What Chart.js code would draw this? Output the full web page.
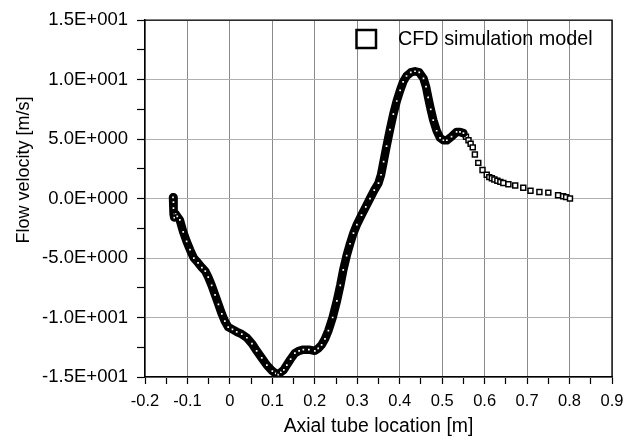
<!DOCTYPE html>
<html>
<head>
<meta charset="utf-8">
<script src="https://cdn.jsdelivr.net/npm/chart.js@4.4.1/dist/chart.umd.min.js"></script>
<style>
  html, body { margin: 0; padding: 0; background: #fff; }
  #wrap { width: 642px; height: 439px; position: relative; }
</style>
</head>
<body>
<div id="wrap"><canvas id="c" width="642" height="439"></canvas></div>
<script>
// Axial tube location [m] of the densely sampled part of the curve
const denseX = [-0.134,-0.133,-0.133,-0.132,-0.131,-0.128,-0.124,-0.118,-0.110,-0.102,-0.094,-0.085,-0.075,-0.066,-0.058,-0.051,-0.043,-0.035,-0.027,-0.019,-0.012,-0.004,0.006,0.016,0.028,0.040,0.052,0.063,0.075,0.087,0.100,0.108,0.114,0.120,0.127,0.134,0.143,0.153,0.163,0.173,0.186,0.200,0.208,0.216,0.224,0.232,0.242,0.252,0.260,0.267,0.275,0.283,0.291,0.299,0.310,0.320,0.330,0.340,0.350,0.356,0.362,0.369,0.377,0.385,0.393,0.401,0.408,0.416,0.426,0.436,0.446,0.456,0.462,0.467,0.473,0.479,0.487,0.495,0.503,0.511,0.522,0.534,0.542,0.550];
// Flow velocity [m/s] of the densely sampled part
const denseY = [0.1,-0.3,-0.8,-1.3,-1.6,-1.3,-1.5,-1.8,-2.8,-3.6,-4.3,-5.0,-5.4,-5.8,-6.1,-6.6,-7.3,-8.1,-8.9,-9.7,-10.3,-10.8,-11.0,-11.2,-11.4,-11.7,-12.2,-12.8,-13.4,-14.0,-14.5,-14.7,-14.8,-14.6,-14.4,-14.0,-13.5,-13.0,-12.8,-12.7,-12.7,-12.8,-12.6,-12.3,-11.8,-11.1,-10.0,-8.6,-7.3,-6.0,-4.8,-3.8,-2.9,-2.2,-1.4,-0.7,0.0,0.7,1.3,2.0,3.1,4.4,5.8,7.1,8.2,9.1,9.8,10.3,10.6,10.7,10.6,10.1,9.4,8.5,7.5,6.6,5.7,5.1,4.9,4.9,5.2,5.6,5.6,5.5];
// Sparse tail markers
const tailX = [0.556,0.562,0.567,0.572,0.577,0.585,0.595,0.605,0.611,0.617,0.623,0.630,0.637,0.644,0.656,0.672,0.691,0.708,0.729,0.750,0.773,0.785,0.792,0.801];
const tailY = [5.2,4.9,4.6,4.3,3.7,3.0,2.4,2.0,1.8,1.7,1.6,1.5,1.4,1.3,1.2,1.1,0.9,0.65,0.55,0.5,0.27,0.2,0.12,0.0];

const seriesName = 'CFD simulation model';
const xTitle = 'Axial tube location [m]';
const yTitle = 'Flow velocity [m/s]';
const xMin = -0.2, xMax = 0.9, xStep = 0.05;
const yMin = -15, yMax = 15, yStep = 2.5;

const FONT = "'Liberation Sans', Arial, Helvetica, sans-serif";
Chart.defaults.font.family = FONT;
Chart.defaults.color = '#000';

function sci(v) {
  if (Math.abs(v) < 1e-9) return '0.0E+000';
  const e = Math.floor(Math.log10(Math.abs(v)) + 1e-9);
  const m = v / Math.pow(10, e);
  return m.toFixed(1) + 'E' + (e < 0 ? '-' : '+') + String(Math.abs(e)).padStart(3, '0');
}
function isMajorX(v) { return Math.abs(Math.round(v * 100)) % 10 === 0; }
function isMajorY(v) { return Math.abs(Math.round(v * 10)) % 50 === 0; }

const denseData = denseX.map((x, i) => ({ x, y: denseY[i] }));
const tailData = tailX.map((x, i) => ({ x, y: tailY[i] }));

const decor = {
  id: 'decor',
  afterDraw(chart) {
    const ctx = chart.ctx, a = chart.chartArea;
    ctx.save();
    // frame
    ctx.strokeStyle = '#000';
    ctx.lineWidth = 1.3;
    ctx.beginPath();
    ctx.moveTo(a.left, a.top); ctx.lineTo(a.right, a.top); ctx.lineTo(a.right, a.bottom);
    ctx.stroke();
    // legend
    ctx.lineWidth = 2.5;
    ctx.fillStyle = '#fff';
    ctx.fillRect(356.5, 30, 19.5, 18);
    ctx.strokeRect(356.5, 30, 19.5, 18);
    ctx.fillStyle = '#000';
    ctx.font = '19.8px ' + FONT;
    ctx.textBaseline = 'middle';
    ctx.textAlign = 'left';
    ctx.fillText(seriesName, 398, 40);
    // x title
    ctx.font = '19.4px ' + FONT;
    ctx.textAlign = 'center';
    ctx.fillText(xTitle, (a.left + a.right) / 2, 427);
    // y title
    ctx.font = '18px ' + FONT;
    ctx.translate(24, 170);
    ctx.rotate(-Math.PI / 2);
    ctx.fillText(yTitle, 0, 0);
    ctx.restore();
  }
};

new Chart(document.getElementById('c'), {
  type: 'scatter',
  data: {
    datasets: [
      {
        label: seriesName,
        data: denseData,
        showLine: true,
        borderColor: '#000',
        borderWidth: 8.5,
        borderJoinStyle: 'round',
        borderCapStyle: 'round',
        tension: 0,
        pointStyle: 'rect',
        pointRadius: 2.2,
        pointBackgroundColor: '#fff',
        pointBorderColor: '#000',
        pointBorderWidth: 1.4
      },
      {
        label: seriesName + ' tail',
        data: tailData,
        showLine: false,
        pointStyle: 'rect',
        pointRadius: 3.5,
        pointBackgroundColor: '#fff',
        pointBorderColor: '#000',
        pointBorderWidth: 1.5
      }
    ]
  },
  options: {
    responsive: false,
    animation: false,
    devicePixelRatio: 1,
    layout: { padding: { left: 0, top: 15, right: 30, bottom: 0 } },
    plugins: { legend: { display: false }, tooltip: { enabled: false } },
    scales: {
      x: {
        type: 'linear',
        min: xMin, max: xMax,
        afterFit: (s) => { s.height = 62; },
        ticks: {
          stepSize: xStep,
          autoSkip: false,
          maxRotation: 0,
          padding: 8,
          font: { size: 16.5 },
          color: '#000',
          callback: (v) => isMajorX(v) ? String(Math.round(v * 10) / 10) : ''
        },
        grid: {
          color: (c) => (c.tick && isMajorX(c.tick.value)) ? '#8a8a8a' : 'rgba(0,0,0,0)',
          tickColor: '#000',
          tickLength: 7,
          tickWidth: 1.2,
          lineWidth: 1
        },
        border: { color: '#000', width: 1.4 }
      },
      y: {
        type: 'linear',
        min: yMin, max: yMax,
        afterFit: (s) => { s.width = 145; },
        ticks: {
          stepSize: yStep,
          autoSkip: false,
          padding: 9,
          font: { size: 18.5 },
          color: '#000',
          callback: (v) => isMajorY(v) ? sci(v) : ''
        },
        grid: {
          color: (c) => (c.tick && isMajorY(c.tick.value)) ? '#b0b0b0' : 'rgba(0,0,0,0)',
          tickColor: '#000',
          tickLength: 8,
          tickWidth: 1.2,
          lineWidth: 1
        },
        border: { color: '#000', width: 1.4 }
      }
    }
  },
  plugins: [decor]
});
</script>
</body>
</html>
